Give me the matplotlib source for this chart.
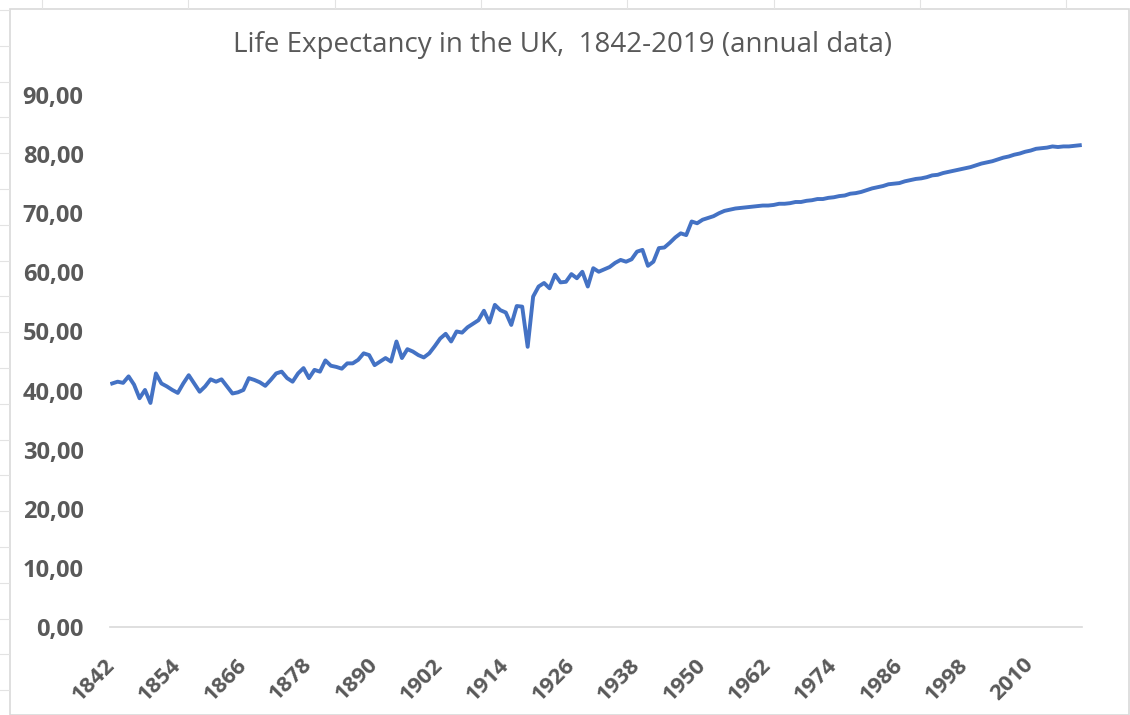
import numpy as np
import matplotlib.pyplot as plt
from matplotlib.patches import Rectangle
from matplotlib.lines import Line2D

# life expectancy, one value per year
years = np.arange(1842, 2020)
life_exp = [
    41.2, 41.5, 41.3, 42.4, 41.0, 38.7, 40.1, 37.9, 42.9, 41.2,  # 1842-1851
    40.7, 40.1, 39.6, 41.2, 42.6, 41.2, 39.8, 40.7, 41.9, 41.5,  # 1852-1861
    41.9, 40.7, 39.5, 39.7, 40.1, 42.1, 41.8, 41.4, 40.8, 41.8,  # 1862-1871
    42.9, 43.2, 42.1, 41.5, 42.9, 43.8, 42.1, 43.5, 43.2, 45.1,  # 1872-1881
    44.2, 44.0, 43.7, 44.6, 44.6, 45.2, 46.3, 46.0, 44.3, 44.9,  # 1882-1891
    45.5, 44.9, 48.3, 45.5, 47.0, 46.6, 46.0, 45.6, 46.3, 47.5,  # 1892-1901
    48.8, 49.6, 48.3, 50.0, 49.8, 50.7, 51.3, 51.9, 53.5, 51.5,  # 1902-1911
    54.5, 53.6, 53.2, 51.1, 54.3, 54.2, 47.4, 55.9, 57.6, 58.2,  # 1912-1921
    57.3, 59.6, 58.3, 58.4, 59.7, 59.0, 60.1, 57.6, 60.7, 60.1,  # 1922-1931
    60.5, 60.9, 61.6, 62.1, 61.8, 62.2, 63.5, 63.8, 61.1, 61.8,  # 1932-1941
    64.1, 64.2, 65.0, 65.9, 66.6, 66.3, 68.6, 68.3, 68.9, 69.2,  # 1942-1951
    69.5, 70.0, 70.4, 70.6, 70.8, 70.9, 71.0, 71.1, 71.2, 71.3,  # 1952-1961
    71.3, 71.4, 71.6, 71.6, 71.7, 71.9, 71.9, 72.1, 72.2, 72.4,  # 1962-1971
    72.4, 72.6, 72.7, 72.9, 73.0, 73.3, 73.4, 73.6, 73.9, 74.2,  # 1972-1981
    74.4, 74.6, 74.9, 75.0, 75.1, 75.4, 75.6, 75.8, 75.9, 76.1,  # 1982-1991
    76.4, 76.5, 76.8, 77.0, 77.2, 77.4, 77.6, 77.8, 78.1, 78.4,  # 1992-2001
    78.6, 78.8, 79.1, 79.4, 79.6, 79.9, 80.1, 80.4, 80.6, 80.9,  # 2002-2011
    81.0, 81.1, 81.3, 81.2, 81.3, 81.3, 81.4, 81.5,              # 2012-2019
]
tick_years = years[::12]
y_ticks = [0, 10, 20, 30, 40, 50, 60, 70, 80, 90]

W, H = 1130, 715
fig = plt.figure(figsize=(W / 100, H / 100), dpi=100)
fig.patch.set_facecolor('white')

ax = fig.add_axes([110 / W, 88 / H, 972 / W, 532 / H])
ax.plot(years, life_exp, color='#4472C4', linewidth=2.8, solid_joinstyle='round')

ax.set_xlim(1841.6, 2019.4)
ax.set_ylim(0, 90)

ax.set_yticks(y_ticks)
ax.set_yticklabels(['%d,00' % v for v in y_ticks])
ax.set_xticks(tick_years)
ax.set_xticklabels([str(y) for y in tick_years], rotation=45, ha='right',
                   rotation_mode='anchor', va='center')

for lab in ax.get_yticklabels():
    lab.set_fontsize(17)
for lab in ax.get_xticklabels():
    lab.set_fontsize(16)
for lab in ax.get_yticklabels() + ax.get_xticklabels():
    lab.set_fontfamily('Open Sans')
    lab.set_fontweight('bold')
    lab.set_color('#595959')

ax.tick_params(axis='y', length=0, pad=19)
ax.tick_params(axis='x', length=0, pad=25)

for s in ['top', 'right', 'left']:
    ax.spines[s].set_visible(False)
ax.spines['bottom'].set_color('#D9D9D9')
ax.spines['bottom'].set_linewidth(1.2)

fig.text(563 / W, 1 - 45 / H, 'Life Expectancy in the UK,  1842-2019 (annual data)',
         ha='center', va='center', fontsize=20, color='#595959', family='Open Sans')

# chart frame and spreadsheet cell borders peeking out
fig.patches.append(Rectangle((10 / W, 0), 1119 / W, 1 - 9 / H, transform=fig.transFigure,
                             fill=False, edgecolor='#D9D9D9', linewidth=1.2))
for yy in np.arange(10, 715, 35.8):
    fig.lines.append(Line2D([0, 9 / W], [1 - yy / H] * 2, transform=fig.transFigure,
                            color='#E3E3E3', linewidth=0.8))
for xx in np.arange(42, 1130, 146.3):
    fig.lines.append(Line2D([xx / W] * 2, [1, 1 - 8 / H], transform=fig.transFigure,
                            color='#E3E3E3', linewidth=0.8))

fig.savefig('out.png', dpi=100)
